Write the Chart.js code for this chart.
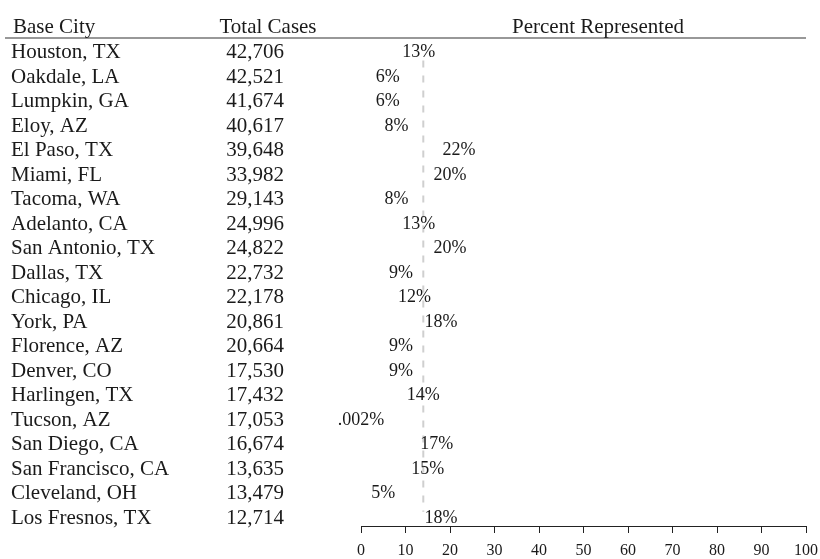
<!DOCTYPE html>
<html>
<head>
<meta charset="utf-8">
<title>Base City cases</title>
<script src="https://cdn.jsdelivr.net/npm/chart.js@4.4.0/dist/chart.umd.min.js"></script>
<style>
  html, body { margin: 0; padding: 0; background: #fff; }
  #wrap { width: 820px; height: 559px; position: relative; }
</style>
</head>
<body>
<div id="wrap"><canvas id="caseChart"></canvas></div>
<script>
const cities = ['Houston, TX', 'Oakdale, LA', 'Lumpkin, GA', 'Eloy, AZ', 'El Paso, TX',
    'Miami, FL', 'Tacoma, WA', 'Adelanto, CA', 'San Antonio, TX', 'Dallas, TX',
    'Chicago, IL', 'York, PA', 'Florence, AZ', 'Denver, CO', 'Harlingen, TX',
    'Tucson, AZ', 'San Diego, CA', 'San Francisco, CA', 'Cleveland, OH', 'Los Fresnos, TX'];
const totalCases = [42706, 42521, 41674, 40617, 39648, 33982, 29143, 24996, 24822, 22732,
    22178, 20861, 20664, 17530, 17432, 17053, 16674, 13635, 13479, 12714];
const percentRepresented = [13, 6, 6, 8, 22, 20, 8, 13, 20, 9, 12, 18, 9, 9, 14, 0.002, 17, 15, 5, 18];
const averagePercent = 14;
const percentTicks = [0, 10, 20, 30, 40, 50, 60, 70, 80, 90, 100];
const headers = ['Base City', 'Total Cases', 'Percent Represented'];

const serif = '"Liberation Serif", "DejaVu Serif", serif';
const ink = '#1a1a1a';

function formatPercent(v) {
    return (v < 1 ? String(v).replace(/^0/, '') : String(v)) + '%';
}

// Table columns, header and dashed average line
const tablePlugin = {
    id: 'tablePlugin',
    beforeDatasetsDraw(chart) {
        const ctx = chart.ctx;
        const x = chart.scales.x;
        const y = chart.scales.y;
        const px = x.getPixelForValue(averagePercent);
        ctx.save();
        ctx.strokeStyle = '#cfcfcf';
        ctx.lineWidth = 2;
        ctx.setLineDash([7, 8]);
        ctx.beginPath();
        ctx.moveTo(px, y.getPixelForValue(0) + 9);
        ctx.lineTo(px, y.getPixelForValue(cities.length - 1) - 5);
        ctx.stroke();
        ctx.restore();
    },
    afterDatasetsDraw(chart) {
        const ctx = chart.ctx;
        const meta = chart.getDatasetMeta(0);
        ctx.save();
        ctx.fillStyle = ink;
        ctx.font = '18px ' + serif;
        ctx.textAlign = 'center';
        ctx.textBaseline = 'alphabetic';
        meta.data.forEach((pt, i) => {
            ctx.fillText(formatPercent(percentRepresented[i]), pt.x, pt.y + 6);
        });
        ctx.restore();
    },
    afterDraw(chart) {
        const ctx = chart.ctx;
        const y = chart.scales.y;
        const area = chart.chartArea;
        ctx.save();
        ctx.fillStyle = ink;
        ctx.font = '21px ' + serif;
        ctx.textBaseline = 'alphabetic';

        // headers
        ctx.textAlign = 'left';
        ctx.fillText(headers[0], 13, 33);
        ctx.textAlign = 'center';
        ctx.fillText(headers[1], 268, 33);
        ctx.fillText(headers[2], 598, 33);

        ctx.strokeStyle = '#333';
        ctx.lineWidth = 1.2;
        ctx.beginPath();
        ctx.moveTo(5, area.top);
        ctx.lineTo(area.right, area.top);
        ctx.stroke();

        // rows
        cities.forEach((city, i) => {
            const py = y.getPixelForValue(i) + 7;
            ctx.textAlign = 'left';
            ctx.fillText(city, 11, py);
            ctx.textAlign = 'right';
            ctx.fillText(totalCases[i].toLocaleString('en-US'), 284, py);
        });
        ctx.restore();
    }
};

const chart = new Chart(document.getElementById('caseChart'), {
    type: 'scatter',
    data: {
        datasets: [{
            data: percentRepresented.map((v, i) => ({ x: v, y: i })),
            pointRadius: 0,
            pointHoverRadius: 0
        }]
    },
    options: {
        responsive: true,
        maintainAspectRatio: false,
        animation: false,
        events: [],
        layout: { padding: { left: 361, right: 14, top: 38, bottom: 0 } },
        plugins: {
            legend: { display: false },
            tooltip: { enabled: false }
        },
        scales: {
            x: {
                type: 'linear',
                min: 0,
                max: 100,
                afterBuildTicks: (axis) => {
                    axis.ticks = percentTicks.map(v => ({ value: v }));
                },
                afterFit: (axis) => {
                    axis.height = 33;
                    axis.paddingLeft = 0;
                    axis.paddingRight = 0;
                },
                grid: {
                    drawOnChartArea: false,
                    drawTicks: true,
                    tickLength: 7,
                    color: '#222'
                },
                border: { display: true, color: '#222', width: 1 },
                ticks: {
                    color: ink,
                    padding: 10,
                    maxRotation: 0,
                    font: { family: serif, size: 16, lineHeight: 1 }
                }
            },
            y: {
                type: 'linear',
                display: false,
                reverse: true,
                min: -0.55,
                max: 19.38
            }
        }
    },
    plugins: [tablePlugin]
});
</script>
</body>
</html>
